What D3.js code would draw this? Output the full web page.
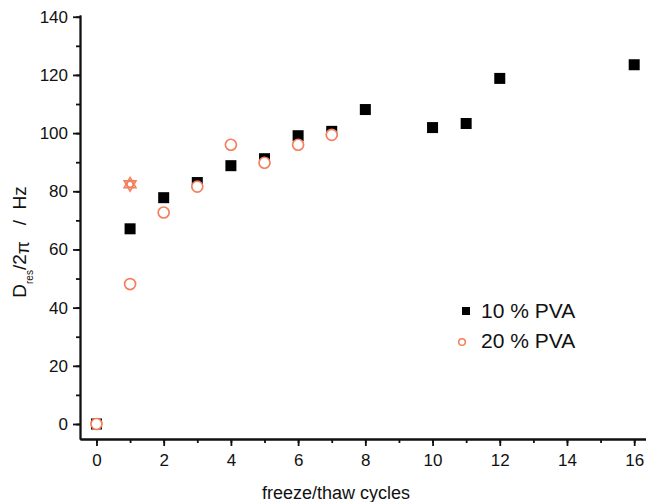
<!DOCTYPE html>
<html>
<head>
<meta charset="utf-8">
<script src="https://cdn.jsdelivr.net/npm/d3@7"></script>
<style>
  body { margin: 0; background: #fff; }
  text { font-family: Arial, "Liberation Sans", sans-serif; fill: #111; }
</style>
</head>
<body>
<svg id="chart" width="646" height="502"></svg>
<script>
// freeze/thaw cycles vs D_res/2pi (Hz)
const pva10Cycles = [0, 1, 2, 3, 4, 5, 6, 7, 8, 10, 11, 12, 16];
const pva10Values = [0, 67.1, 77.8, 83.0, 88.8, 91.2, 99.1, 100.6, 108.1, 101.9, 103.3, 118.8, 123.5];

const pva20Cycles = [0, 1, 2, 3, 4, 5, 6, 7];
const pva20Values = [0, 48.1, 72.7, 81.6, 96.0, 89.8, 96.0, 99.4];

// overlapping triangle markers at cycle 1
const pva20ExtraCycles = [1];
const pva20ExtraValues = [82.4];

const xTicks = [0, 2, 4, 6, 8, 10, 12, 14, 16];
const yTicks = [0, 20, 40, 60, 80, 100, 120, 140];

const legendLabels = ["10 % PVA", "20 % PVA"];

const red = "#f47f5c";

const svg = d3.select("#chart");

const x = d3.scaleLinear().domain([-0.49, 16.5]).range([80, 651]);
const y = d3.scaleLinear().domain([-5.16, 140.6]).range([439, 15]);

const g = svg.append("g");

// axes
const xAxis = d3.axisBottom(x).tickValues(xTicks).tickSize(7).tickSizeOuter(0).tickPadding(8);
const xMinor = d3.axisBottom(x).tickValues(d3.range(0, 17)).tickSize(4).tickSizeOuter(0).tickFormat("");
const yAxis = d3.axisLeft(y).tickValues(yTicks).tickSize(7).tickSizeOuter(0).tickPadding(5);
const yMinor = d3.axisLeft(y).tickValues(d3.range(0, 141, 10)).tickSize(4).tickSizeOuter(0).tickFormat("");

function styleAxis(sel) {
    sel.selectAll("path, line").attr("stroke", "#111").attr("stroke-width", 1.8);
    sel.selectAll("text").style("font-size", "17px").attr("fill", "#111");
}

g.append("g").attr("transform", "translate(0,439)").call(xMinor).call(styleAxis);
g.append("g").attr("transform", "translate(0,439)").call(xAxis).call(styleAxis);
g.append("g").attr("transform", "translate(80,0)").call(yMinor).call(styleAxis);
g.append("g").attr("transform", "translate(80,0)").call(yAxis).call(styleAxis);

// axis titles
svg.append("text")
    .attr("x", 336).attr("y", 499)
    .attr("text-anchor", "middle")
    .style("font-size", "18px")
    .text("freeze/thaw cycles");

const yTitle = svg.append("text")
    .attr("transform", "translate(26,242) rotate(-90)")
    .attr("text-anchor", "middle")
    .style("font-size", "19px")
    .style("white-space", "pre");
yTitle.append("tspan").text("D");
yTitle.append("tspan").attr("dy", 7).style("font-size", "10px").text("res");
yTitle.append("tspan").attr("dy", -7).text("/2");
yTitle.append("tspan").attr("dy", 3).text("\u03c0");
yTitle.append("tspan").attr("dy", -3).text("   /  Hz");

// 10 % PVA squares
const sq = 11;
g.selectAll(".sq")
    .data(pva10Cycles.map((c, i) => ({ c, v: pva10Values[i] })))
    .enter().append("rect")
    .attr("class", "sq")
    .attr("x", d => x(d.c) - sq / 2)
    .attr("y", d => y(d.v) - sq / 2)
    .attr("width", sq).attr("height", sq)
    .attr("fill", "#000");

// 20 % PVA circles
g.selectAll(".circ")
    .data(pva20Cycles.map((c, i) => ({ c, v: pva20Values[i] })))
    .enter().append("circle")
    .attr("class", "circ")
    .attr("cx", d => x(d.c))
    .attr("cy", d => y(d.v))
    .attr("r", 5.5)
    .attr("fill", "#fff")
    .attr("stroke", red)
    .attr("stroke-width", 1.7);

// the star-like cluster at cycle 1
const extra = pva20ExtraCycles.map((c, i) => ({ c, v: pva20ExtraValues[i] }));
const tri = d3.symbol().type(d3.symbolTriangle).size(60);
extra.forEach(d => {
    [0, 180].forEach(rot => {
        g.append("path")
            .attr("d", tri())
            .attr("transform", `translate(${x(d.c)},${y(d.v)}) rotate(${rot})`)
            .attr("fill", "none")
            .attr("stroke", red)
            .attr("stroke-width", 1.6);
    });
    g.append("circle")
        .attr("cx", x(d.c)).attr("cy", y(d.v))
        .attr("r", 3)
        .attr("fill", "none")
        .attr("stroke", red)
        .attr("stroke-width", 1.4);
});

// legend
const legend = svg.append("g");
legend.append("rect")
    .attr("x", 462).attr("y", 307).attr("width", 8).attr("height", 8)
    .attr("fill", "#000");
legend.append("circle")
    .attr("cx", 462).attr("cy", 342).attr("r", 3.3)
    .attr("fill", "none").attr("stroke", red).attr("stroke-width", 1.5);
legend.selectAll(".lt")
    .data(legendLabels)
    .enter().append("text")
    .attr("class", "lt")
    .attr("x", 481)
    .attr("y", (d, i) => 318 + i * 30)
    .style("font-size", "21px")
    .text(d => d);
</script>
</body>
</html>
